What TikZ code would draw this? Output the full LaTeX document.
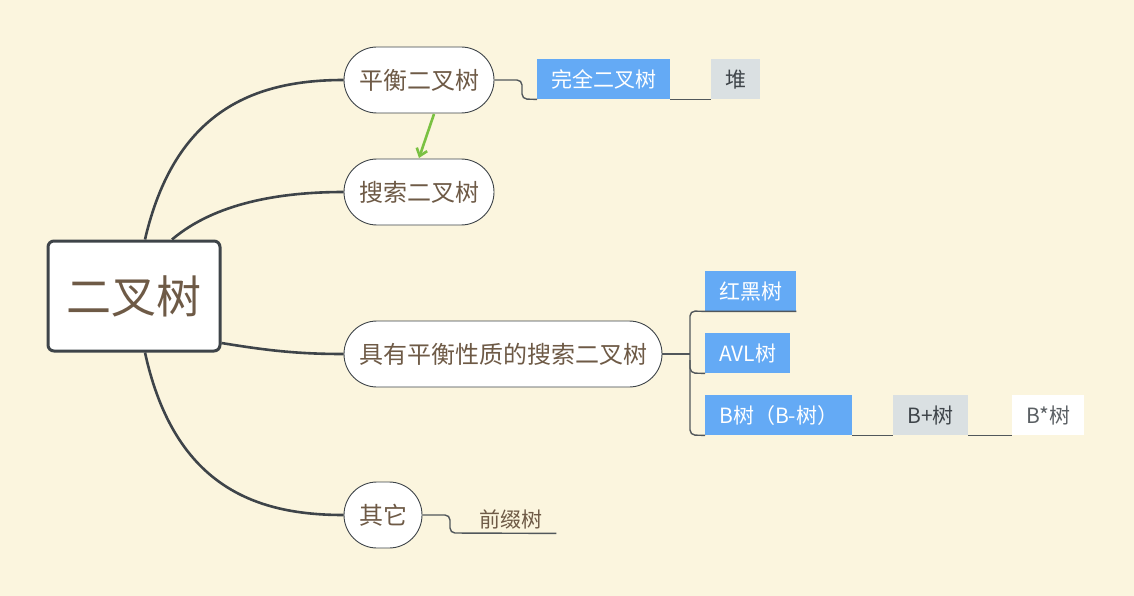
\documentclass[tikz,border=0pt]{standalone}
\usepackage{fontspec}
\setmainfont{Noto Sans CJK SC}
\usetikzlibrary{positioning,arrows.meta}
\definecolor{bgcol}{RGB}{251,245,222}
\definecolor{linecol}{RGB}{62,68,73}
\definecolor{txtcol}{RGB}{110,90,70}
\definecolor{bluecol}{RGB}{100,170,245}
\definecolor{graycol}{RGB}{218,224,226}
\definecolor{greencol}{RGB}{122,193,66}
\begin{document}
\begin{tikzpicture}[x=1pt, y=-1pt,
    root/.style = {draw=linecol, line width=3pt, fill=white, rounded corners=6pt, minimum width=172pt, minimum height=110pt, text=txtcol, font=\fontsize{45}{50}\selectfont},
    topic/.style = {draw=linecol, line width=0.9pt, fill=white, rounded corners=33pt, minimum height=66pt, inner xsep=15pt, text=txtcol, font=\fontsize{24}{28}\selectfont},
    sub/.style = {anchor=north west, minimum height=40pt, inner xsep=14pt, inner ysep=0pt, font=\fontsize{21}{24}\selectfont},
    bluebox/.style = {sub, fill=bluecol, text=white},
    graybox/.style = {sub, fill=graycol, text=linecol},
    whitebox/.style = {sub, fill=white, text=linecol!85},
    branch/.style = {draw=linecol, line width=2.6pt},
    twig/.style = {draw=linecol!90, line width=1.4pt, rounded corners=5pt}]
    % background and bounds
    \fill[bgcol] (0,0) rectangle (1134,596);
    \useasboundingbox (0,0) rectangle (1134,596);

    % main nodes
    \node[root] (bt) at (134,296) {二叉树};
    \node[topic] (balance) at (419,80) {平衡二叉树};
    \node[topic] (search) at (419,192) {搜索二叉树};
    \node[topic] (bsearch) at (503,354) {具有平衡性质的搜索二叉树};
    \node[topic] (other) at (383,515) {其它};

    % main branches
    \draw[branch] ([xshift=11pt]bt.north) .. controls (175,110) and (255,80) .. (balance.west);
    \draw[branch] ([xshift=38pt]bt.north) .. controls (215,203) and (280,192) .. (search.west);
    \draw[branch] ([yshift=-47pt]bt.east) .. controls (270,351) and (300,354) .. (bsearch.west);
    \draw[branch] ([xshift=11pt]bt.south) .. controls (175,490) and (260,515) .. (other.west);

    % balance -> search
    \draw[-{Straight Barb[length=7pt,width=11pt]}, greencol, line width=2.6pt] (434,114) -- (419,158);

    % sub topics
    \node[bluebox] (full) at (537,59) {完全二叉树};
    \node[graybox] (heap) at (711,59) {堆};
    \node[bluebox] (rb) at (705,271) {红黑树};
    \node[bluebox] (avl) at (705,333) {AVL树};
    \node[bluebox] (b) at (705,395) {B树（B-树）};
    \node[graybox] (bp) at (893,395) {B+树};
    \node[whitebox] (bs) at (1012,395) {B*树};
    \node[anchor=north west, text=txtcol, inner xsep=14pt, inner ysep=0pt, minimum height=28pt, font=\fontsize{21}{24}\selectfont] (prefix) at (465,505) {前缀树};

    % twigs
    \draw[twig] (balance.east) -- (522,80) -- (522,99) -- (full.south west);
    \draw[twig] (full.south east) -- (heap.south west);
    \draw[twig] (bsearch.east) -- (690,354);
    \draw[twig] (rb.south east) -- (rb.south west) -- (690,311) -- (690,435) -- (b.south west);
    \draw[twig] (avl.south west) -- (690,373) -- (690,360);
    \draw[twig] (b.south east) -- (bp.south west);
    \draw[twig] (bp.south east) -- (bs.south west);
    \draw[twig] (other.east) -- (450,515) -- (450,533) -- (prefix.south east);
  \end{tikzpicture}
\end{document}
